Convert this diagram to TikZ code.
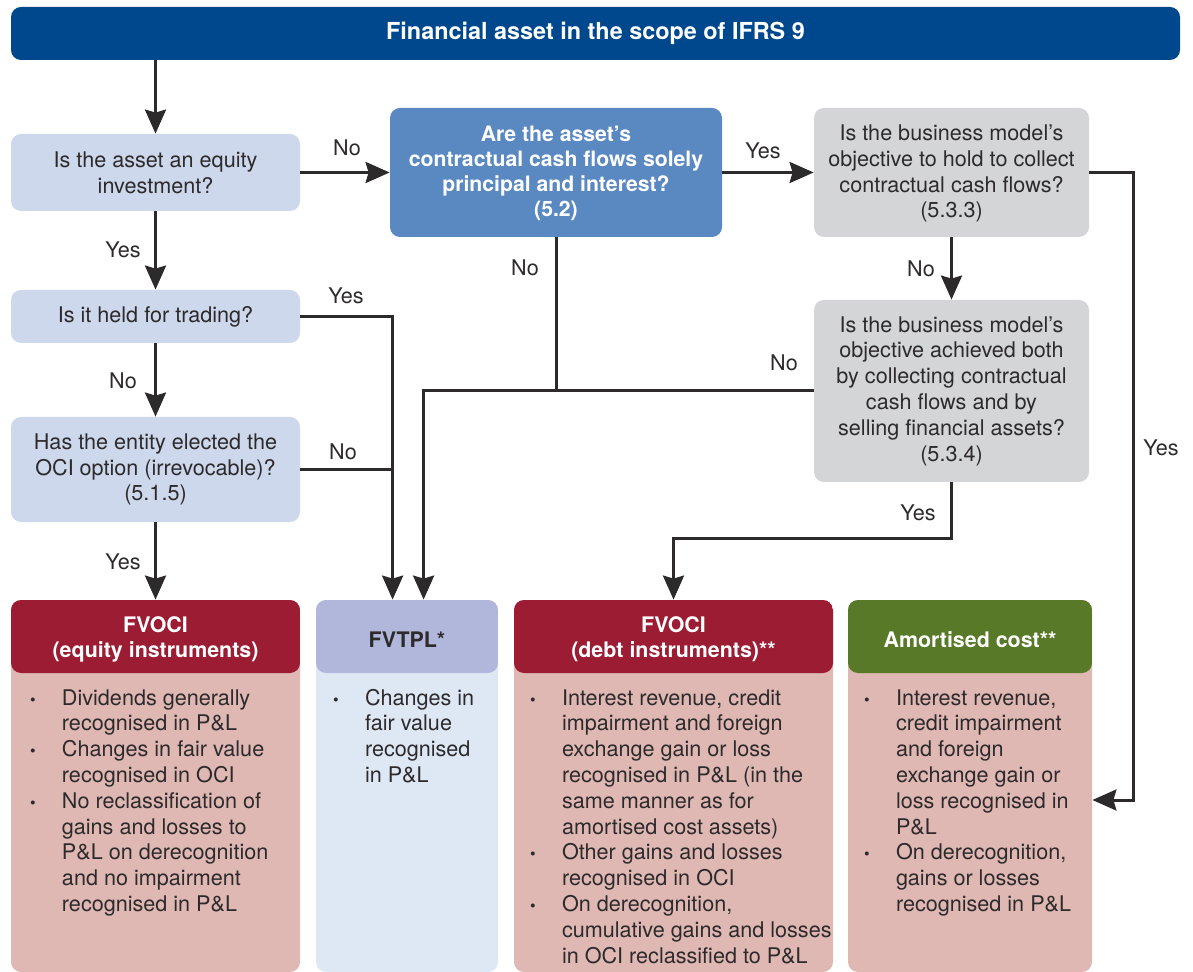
\documentclass[tikz,border=0pt]{standalone}
\usepackage{fontspec}
\setmainfont{TeX Gyre Heros}
\usetikzlibrary{arrows.meta,calc}

\definecolor{txt}{RGB}{45,42,43}
\definecolor{navy}{RGB}{0,72,141}
\definecolor{qblue}{RGB}{205,216,236}
\definecolor{midblue}{RGB}{90,137,194}
\definecolor{qgrey}{RGB}{212,213,215}
\definecolor{wine}{RGB}{155,28,51}
\definecolor{rosy}{RGB}{223,184,180}
\definecolor{lilac}{RGB}{177,183,218}
\definecolor{paleblue}{RGB}{222,232,245}
\definecolor{olive}{RGB}{88,122,40}

\newcommand{\dotb}{{\footnotesize\textbullet}}

\begin{document}
\begin{tikzpicture}[x=0.5pt, y=-0.5pt,
    every node/.style={text=txt, font=\fontsize{10.8}{12.9}\selectfont},
    qbox/.style={fill=qblue, rounded corners=5pt, align=center, inner sep=0pt, minimum width=144.5pt},
    ask/.style={fill=#1, rounded corners=5pt, align=center, inner sep=0pt, minimum height=64.5pt},
    card/.style 2 args={fill=#2, rounded corners=5pt, inner sep=0pt, minimum height=186pt,
        path picture={\fill[#1] (path picture bounding box.north west) rectangle ([yshift=-36.5pt]path picture bounding box.north east);}},
    hdr/.style={font=\bfseries\fontsize{10.7}{12.5}\selectfont, text=white, align=center},
    body/.style={anchor=north west, inner sep=0pt},
    lbl/.style={inner sep=0pt},
    arr/.style={line width=1.5pt, draw=txt, -{Stealth[length=12pt, width=10.5pt, inset=1.5pt]}},
    line/.style={line width=1.5pt, draw=txt}]
    \useasboundingbox (0,0) rectangle (1193,972);

    \node[fill=navy, rounded corners=5pt, minimum width=584.5pt, minimum height=26.5pt, text=white,
        font=\bfseries\fontsize{11.7}{14}\selectfont] (top) at (595.5,33.5) {Financial asset in the scope of IFRS 9};

    % questions
    \node[qbox, minimum height=38.5pt] (q1) at (155.5,172.5) {Is the asset an equity\\investment?};
    \node[qbox, minimum height=26.5pt] (q2) at (155.5,316.5) {Is it held for trading?};
    \node[qbox, minimum height=52.5pt] (q3) at (155.5,469.5) {Has the entity elected the\\OCI option (irrevocable)?\\(5.1.5)};
    \node[ask=midblue, minimum width=166pt, text=white, font=\bfseries\fontsize{10.6}{12.5}\selectfont] (sppi) at (556,172.5)
        {\strut Are the asset’s\\contractual cash flows solely\\principal and interest?\\(5.2)};
    \node[ask=qgrey, minimum width=137.5pt] (htc) at (951.5,172.5)
        {\strut Is the business model’s\\objective to hold to collect\\contractual cash flows?\\(5.3.3)};
    \node[ask=qgrey, minimum width=137.5pt, minimum height=91pt] (htcs) at (951.5,391)
        {Is the business model’s\\objective achieved both\\by collecting contractual\\cash flows and by\\selling financial assets?\\(5.3.4)};

    % outcomes
    \node[card={wine}{rosy}, minimum width=144.5pt] (fveq) at (155.5,786) {};
    \node[card={lilac}{paleblue}, minimum width=91pt] (fvtpl) at (407,786) {};
    \node[card={wine}{rosy}, minimum width=159.5pt] (fvdebt) at (673.5,786) {};
    \node[card={olive}{rosy}, minimum width=122pt] (amort) at (970,786) {};

    \node[hdr] (fveqh) at ($(fveq.north)+(0,40)$) {FVOCI\\(equity instruments)};
    \node[hdr, text=txt] (fvtplh) at ($(fvtpl.north)+(0,40)$) {FVTPL*};
    \node[hdr] (fvdebth) at ($(fvdebt.north)+(0,40)$) {FVOCI\\(debt instruments)**};
    \node[hdr] (amorth) at ($(amort.north)+(0,40)$) {Amortised cost**};

    \node[body] (fveqb) at ($(fveq.north west)+(19,87)$) {\begin{tabular}{@{}p{16pt}@{}l@{}}
        \dotb & Dividends generally\\ & recognised in P\&L\\
        \dotb & Changes in fair value\\ & recognised in OCI\\
        \dotb & No reclassification of\\ & gains and losses to\\ & P\&L on derecognition\\ & and no impairment\\ & recognised in P\&L
        \end{tabular}};
    \node[body] (fvtplb) at ($(fvtpl.north west)+(17,87)$) {\begin{tabular}{@{}p{16pt}@{}l@{}}
        \dotb & Changes in\\ & fair value\\ & recognised\\ & in P\&L
        \end{tabular}};
    \node[body] (fvdebtb) at ($(fvdebt.north west)+(16,87)$) {\begin{tabular}{@{}p{16pt}@{}l@{}}
        \dotb & Interest revenue, credit\\ & impairment and foreign\\ & exchange gain or loss\\ & recognised in P\&L (in the\\ & same manner as for\\ & amortised cost assets)\\
        \dotb & Other gains and losses\\ & recognised in OCI\\
        \dotb & On derecognition,\\ & cumulative gains and losses\\ & in OCI reclassified to P\&L
        \end{tabular}};
    \node[body] (amortb) at ($(amort.north west)+(16,87)$) {\begin{tabular}{@{}p{16pt}@{}l@{}}
        \dotb & Interest revenue,\\ & credit impairment\\ & and foreign\\ & exchange gain or\\ & loss recognised in\\ & P\&L\\
        \dotb & On derecognition,\\ & gains or losses\\ & recognised in P\&L
        \end{tabular}};

    % connectors
    \coordinate (tplA) at ($(fvtpl.north west)+(77,0)$);
    \coordinate (tplB) at ($(fvtpl.north west)+(108,0)$);
    \coordinate (rail) at (1133,800);

    \draw[arr] (top.south -| q1.north) -- (q1.north);
    \draw[arr] (q1.south) -- (q2.north);
    \draw[arr] (q2.south) -- (q3.north);
    \draw[arr] (q3.south) -- (fveq.north);
    \draw[arr] (q1.east) -- (q1.east -| sppi.west);
    \draw[arr] (q2.east) -| (tplA);
    \draw[line] (q3.east) -- (q3.east -| tplA);
    \draw[arr] (sppi.east) -- (sppi.east -| htc.west);
    \draw[line] (sppi.south) -- (sppi.south |- htcs.west);
    \draw[arr] (htcs.west) -| (tplB);
    \draw[arr] (htc.south) -- (htcs.north);
    \draw[arr] (htc.east) -- (htc.east -| rail) -- (rail) -- (rail -| amort.east);
    \draw[arr] (htcs.south) -- ++(0,56) -| (fvdebt.north);

    \node[lbl] at (347,148) {No};
    \node[lbl] at (763,151) {Yes};
    \node[lbl] at (123,250) {Yes};
    \node[lbl] at (346,296) {Yes};
    \node[lbl] at (525,268) {No};
    \node[lbl] at (921,269) {No};
    \node[lbl] at (784,363) {No};
    \node[lbl] at (123,381) {No};
    \node[lbl] at (343,452) {No};
    \node[lbl] at (1161,448) {Yes};
    \node[lbl] at (918,513) {Yes};
    \node[lbl] at (123,562) {Yes};
\end{tikzpicture}
\end{document}
